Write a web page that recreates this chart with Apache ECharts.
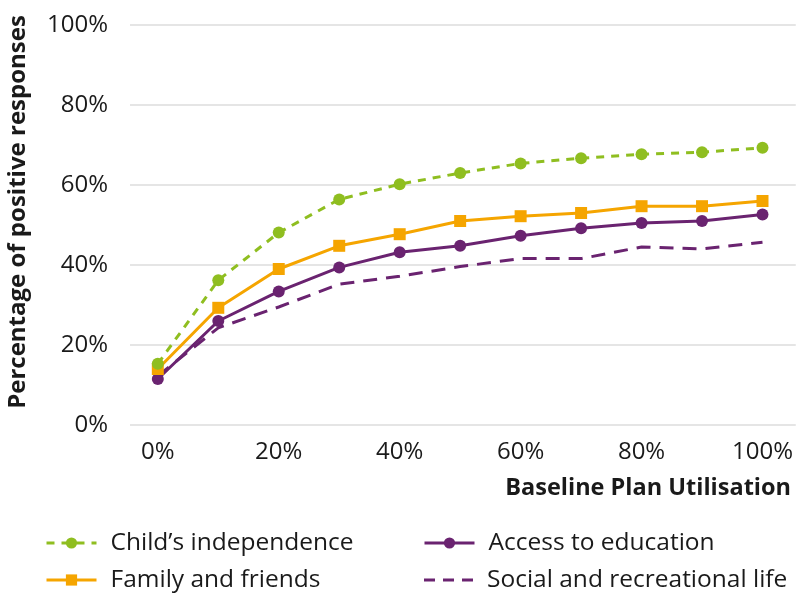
<!DOCTYPE html>
<html><head><meta charset="utf-8">
<script src="https://cdn.jsdelivr.net/npm/echarts@6/dist/echarts.min.js"></script>
<style>html,body{margin:0;padding:0;background:#fff}#c{width:796px;height:593px}</style>
</head><body><div id="c"></div>
<script>
const xValues = [0,10,20,30,40,50,60,70,80,90,100];
const xTickLabels = [0,20,40,60,80,100];
const childIndependence = [15.3,36.2,48.1,56.4,60.2,63.0,65.4,66.7,67.7,68.2,69.3];
const familyFriends = [14.0,29.3,39.0,44.8,47.7,51.0,52.2,53.0,54.7,54.7,56.0];
const accessEducation = [11.5,26.0,33.4,39.4,43.2,44.8,47.3,49.2,50.5,51.0,52.6];
const socialLife = [12.3,24.3,29.5,35.2,37.2,39.6,41.6,41.6,44.5,44.0,45.7];
const seriesNames = ['Child\u2019s independence','Family and friends','Access to education','Social and recreational life'];
const yTicks = [0,20,40,60,80,100];

const GREEN='#8fbe20', ORANGE='#f5a500', PURPLE='#6a2370';
const FONT='"Open Sans", sans-serif';
const pair = a => a.map((v,i)=>[xValues[i], v]);
// dashed legend icon (no marker); tiny corner squares fix the icon box to 50x14
const dashIcon = 'path://M0,0h0.01v0.01h-0.01z M49.99,13.99h0.01v0.01h-0.01z M1,5.5h11v3h-11z M20,5.5h11v3h-11z M39,5.5h11v3h-11z';

const legendText = {fontSize:24.5, fontFamily:FONT, color:'#1a1a1a', lineHeight:26, padding:[0,0,0,9]};
const mkLegend = (item, left, top) => ({data:[item], left, top, padding:0, itemWidth:50, itemHeight:14,
  lineStyle:{width:3}, textStyle:legendText});

const chart = echarts.init(document.getElementById('c'), null, {renderer:'canvas'});
chart.setOption({
  animation:false,
  backgroundColor:'#fff',
  grid:{left:130, right:0, top:25, bottom:168, containLabel:false},
  xAxis:{type:'value', min:-4.6, max:105.5,
    axisLine:{show:false}, axisTick:{show:false}, splitLine:{show:false},
    axisLabel:{color:'#1a1a1a', fontSize:24, fontFamily:FONT, margin:15,
      customValues:xTickLabels, formatter:'{value}%'}},
  yAxis:{type:'value', min:yTicks[0], max:yTicks[yTicks.length-1], interval:20,
    axisLine:{show:false}, axisTick:{show:false},
    splitLine:{lineStyle:{color:'#dcdcdc', width:1.5}},
    axisLabel:{color:'#1a1a1a', fontSize:24, fontFamily:FONT, margin:22, formatter:'{value}%'}},
  graphic:[
    {type:'text', x:18, y:212, rotation:Math.PI/2,
      style:{text:'Percentage of positive responses', font:'bold 24px '+FONT, fill:'#1a1a1a', align:'center', verticalAlign:'middle'}},
    {type:'text', x:791, y:488,
      style:{text:'Baseline Plan Utilisation', font:'bold 23.5px '+FONT, fill:'#1a1a1a', align:'right', verticalAlign:'middle'}}
  ],
  legend:[
    mkLegend(seriesNames[0], 45, 530),
    mkLegend(seriesNames[1], 45, 567),
    mkLegend(seriesNames[2], 423, 530),
    mkLegend({name:seriesNames[3], icon:dashIcon}, 423, 567)
  ],
  series:[
    {name:seriesNames[3], type:'line', data:pair(socialLife), symbol:'none',
      lineStyle:{color:PURPLE, width:3, type:[14,9]}, itemStyle:{color:PURPLE}},
    {name:seriesNames[2], type:'line', data:pair(accessEducation), symbol:'circle', symbolSize:12,
      lineStyle:{color:PURPLE, width:3}, itemStyle:{color:PURPLE}},
    {name:seriesNames[1], type:'line', data:pair(familyFriends), symbol:'rect', symbolSize:12,
      lineStyle:{color:ORANGE, width:3}, itemStyle:{color:ORANGE}},
    {name:seriesNames[0], type:'line', data:pair(childIndependence), symbol:'circle', symbolSize:12,
      lineStyle:{color:GREEN, width:3, type:[8,7]}, itemStyle:{color:GREEN}}
  ]
});
</script></body></html>
